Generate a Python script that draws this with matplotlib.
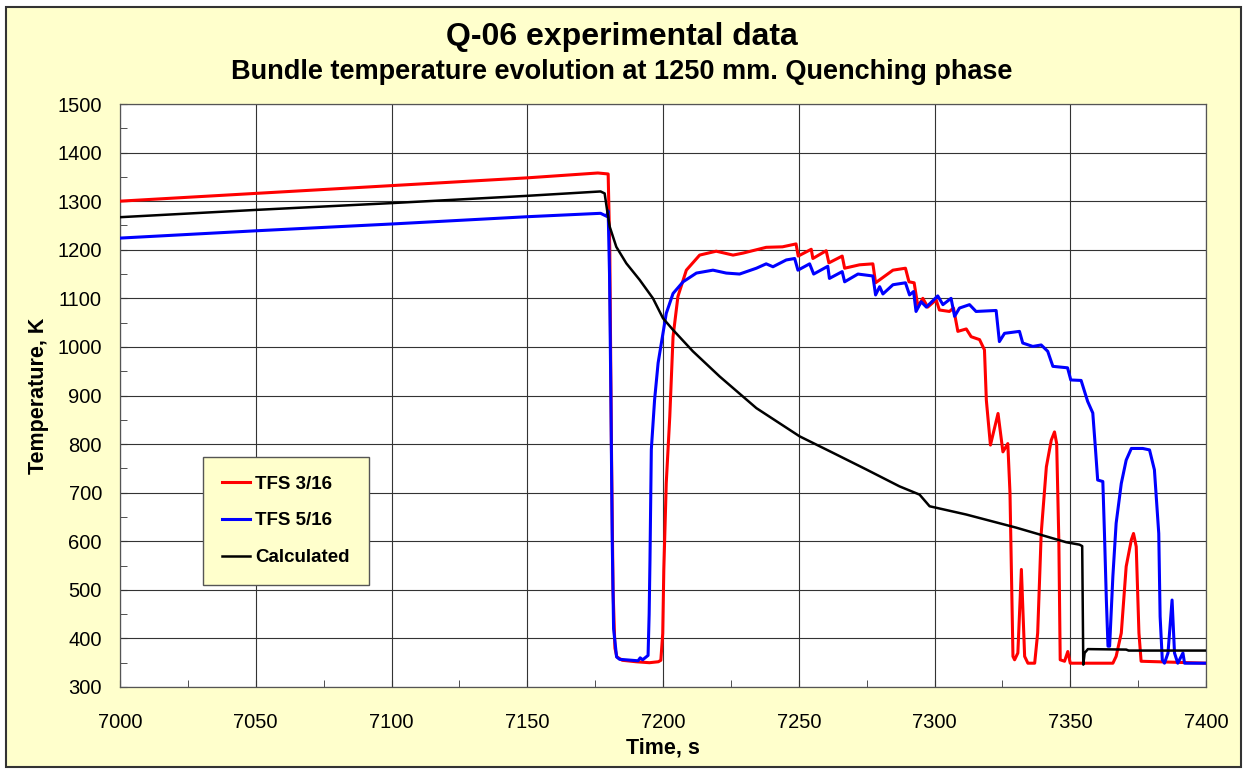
import matplotlib
matplotlib.use("Agg")
import matplotlib.pyplot as plt
from matplotlib.patches import Rectangle
from matplotlib.ticker import MultipleLocator

plt.rcParams['font.family'] = ['Liberation Sans', 'DejaVu Sans']

# TFS 3/16 thermocouple reading
t_red = [7000, 7050, 7100, 7150, 7176, 7179.8, 7180.4, 7181.0, 7181.6, 7182.3, 7183,
         7185, 7190, 7195, 7198.3, 7199.2, 7199.9, 7200.3, 7201.2, 7202.5, 7203.7,
         7205.5, 7208.6, 7213.5, 7219.6, 7225.8, 7229.4, 7238, 7244, 7249, 7249.8,
         7254.6, 7255.2, 7260.1, 7261.1, 7266, 7266.9, 7272.4, 7277.3, 7278.3,
         7284.7, 7289.3, 7290.6, 7292.5, 7293.9, 7295.7, 7297.5, 7300.6, 7301.8,
         7305.5, 7307, 7308.6, 7311.7, 7313.5, 7316.6, 7318.4, 7319.1, 7320.6,
         7323.4, 7325.2, 7327, 7327.8, 7328.9, 7329.5, 7330.7, 7332, 7333.2,
         7334.4, 7336.9, 7338, 7339.3, 7341.2, 7343, 7344.2, 7345, 7345.8, 7346.3,
         7347.9, 7349.1, 7350, 7365.7, 7366.9, 7368.8, 7370.6, 7372.5, 7373.3,
         7374.3, 7375.3, 7376.1, 7400]
T_red = [1300, 1316, 1332, 1348, 1358, 1356, 1200, 800, 500, 380, 362,
         355, 352, 350, 352, 355, 410, 542, 720, 857, 1021,
         1104, 1158, 1189, 1197, 1189, 1193, 1205, 1206, 1212, 1187,
         1201, 1182, 1198, 1173, 1187, 1162, 1169, 1171, 1132,
         1158, 1162, 1134, 1132, 1083, 1100, 1082, 1097, 1076,
         1073, 1080, 1032, 1037, 1021, 1015, 994, 890, 798,
         863, 784, 801, 700, 363, 356, 370, 542, 363,
         349, 349, 411, 616, 753, 808, 825, 801, 600, 356,
         353, 373, 349, 349, 363, 411, 548, 603, 616,
         589, 411, 353, 349]

# TFS 5/16 thermocouple reading
t_blue = [7000, 7050, 7100, 7150, 7177, 7179.2, 7179.8, 7180.3, 7180.8, 7181.3,
          7181.8, 7182.9, 7184, 7190.8, 7191.6, 7192.5, 7194.5, 7194.9, 7195.2,
          7195.7, 7196.9, 7198.2, 7199.4, 7201.2, 7203.7, 7207.4, 7212.3, 7218.4,
          7223.3, 7228.2, 7234.4, 7238, 7240.5, 7245.4, 7248.5, 7249.7, 7254,
          7255.5, 7260.7, 7261.3, 7266, 7266.9, 7271.8, 7277.3, 7278.3, 7279.8,
          7281, 7284.7, 7289.3, 7290.8, 7292.3, 7293.2, 7295.1, 7297, 7301.2,
          7303.1, 7306.1, 7307.4, 7309.2, 7312.9, 7315.3, 7322.7, 7323.9, 7325.8,
          7331.3, 7332.5, 7336.2, 7339.3, 7341.7, 7343.6, 7349, 7350.2, 7354,
          7356.4, 7358.3, 7359.3, 7360.1, 7362, 7362.6, 7363.3, 7363.9, 7364.5,
          7365.7, 7366.9, 7368.8, 7370.6, 7372.5, 7376.7, 7379.2, 7381, 7382.6,
          7383.1, 7383.9, 7384.7, 7386, 7387.5, 7388.4, 7389.6, 7391.5, 7392.1,
          7400]
T_blue = [1224, 1239, 1253, 1268, 1275, 1269, 1280, 1150, 900, 600,
          420, 362, 357, 354, 360, 356, 365, 450, 560,
          789, 891, 967, 1008, 1069, 1110, 1134, 1152, 1158,
          1152, 1150, 1162, 1171, 1165, 1179, 1182, 1158, 1171,
          1150, 1166, 1141, 1155, 1134, 1150, 1146, 1107, 1124,
          1109, 1128, 1132, 1107, 1114, 1073, 1093, 1082, 1105,
          1087, 1100, 1063, 1080, 1087, 1073, 1075, 1011, 1028,
          1032, 1008, 1001, 1004, 991, 960, 957, 932, 931,
          888, 864, 789, 726, 723, 616, 479, 384, 384,
          528, 637, 719, 767, 791, 791, 788, 747, 616,
          445, 356, 349, 370, 479, 370, 349, 370, 349,
          349]

# Calculated temperature
t_calc = [7000, 7050, 7100, 7150, 7177, 7178.5, 7179.4, 7180.4, 7182.8, 7186.5,
          7191.4, 7196.3, 7200, 7203.7, 7211, 7220.9, 7234.4, 7250.3, 7262.6,
          7274.8, 7287.1, 7294.5, 7298.2, 7311.7, 7330.1, 7348.5, 7353.4, 7354.4,
          7354.8, 7355.3, 7356.5, 7370.6, 7371.5, 7400]
T_calc = [1267, 1282, 1296, 1311, 1320, 1316, 1282, 1247, 1206, 1172,
          1138, 1100, 1059, 1035, 991, 939, 874, 816, 782,
          748, 713, 696, 672, 655, 628, 598, 593, 590,
          346, 370, 378, 377, 375, 375]

series_labels = ['TFS 3/16', 'TFS 5/16', 'Calculated']
x_ticks = list(range(7000, 7401, 50))
y_ticks = list(range(300, 1501, 100))

fig = plt.figure(figsize=(12.44, 7.69), dpi=100)
fig.patch.set_facecolor('white')
fig.patches.append(Rectangle((6 / 1244, 2 / 769), 1235 / 1244, 760 / 769,
                             transform=fig.transFigure, facecolor='#FFFFCC',
                             edgecolor='#333333', linewidth=1.5, zorder=-10))

ax = fig.add_axes([120 / 1244, 1 - 687 / 769, 1086 / 1244, 583 / 769])
ax.set_zorder(1)
ax.set_facecolor('white')

ax.plot(t_red, T_red, color='#FF0000', lw=2.2, label=series_labels[0], zorder=3)
ax.plot(t_blue, T_blue, color='#0000FF', lw=2.2, label=series_labels[1], zorder=4)
ax.plot(t_calc, T_calc, color='black', lw=1.8, label=series_labels[2], zorder=5)

ax.set_xlim(7000, 7400)
ax.set_ylim(300, 1500)
ax.set_xticks(x_ticks)
ax.set_yticks(y_ticks)
ax.xaxis.set_minor_locator(MultipleLocator(25))
ax.yaxis.set_minor_locator(MultipleLocator(50))
ax.grid(True, which='major', color='#333333', lw=0.8)
ax.set_axisbelow(True)
ax.tick_params(which='both', direction='in', color='#333333')
ax.tick_params(which='major', length=5, labelsize=14.5, pad=13)
ax.tick_params(which='minor', length=5)
ax.tick_params(axis='x', which='major', pad=19)
for s in ax.spines.values():
    s.set_color('#555555')
    s.set_linewidth(0.9)

ax.set_xlabel('Time, s', fontsize=15.5, fontweight='bold', labelpad=4)
ax.set_ylabel('Temperature, K', fontsize=15.5, fontweight='bold', labelpad=6)

fig.text(0.5, 1 - 37 / 769, 'Q-06 experimental data', ha='center', va='center',
         fontsize=23, fontweight='bold')
fig.text(0.5, 1 - 72 / 769, 'Bundle temperature evolution at 1250 mm. Quenching phase',
         ha='center', va='center', fontsize=19.5, fontweight='bold')

leg = ax.legend(loc='lower left', bbox_to_anchor=(0.0764, 0.175), borderaxespad=0,
                prop={'weight': 'bold', 'size': 13.5}, frameon=True,
                fancybox=False, facecolor='#FFFFCC', edgecolor='#555555',
                framealpha=1, handlelength=1.5, handletextpad=0.3,
                labelspacing=1.05, borderpad=1.0)
leg.get_frame().set_linewidth(1.0)

fig.savefig('out.png', dpi=100, facecolor=fig.get_facecolor())
